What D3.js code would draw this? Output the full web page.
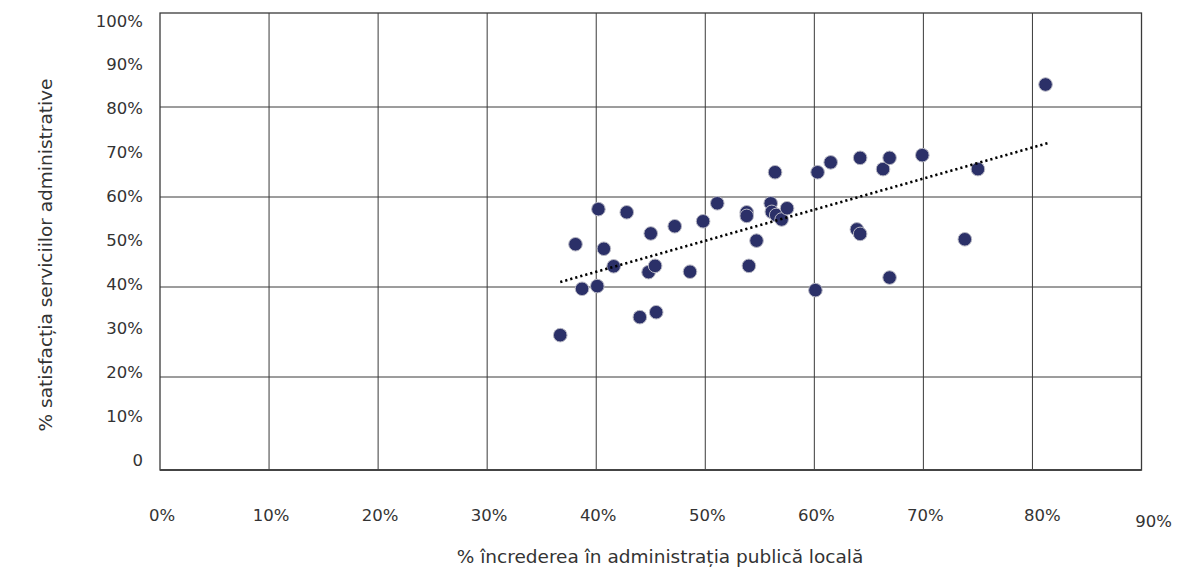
<!DOCTYPE html>
<html>
<head>
<meta charset="utf-8">
<script src="https://cdn.jsdelivr.net/npm/d3@7/dist/d3.min.js"></script>
<style>
  html, body { margin: 0; padding: 0; background: #fff; }
  svg { display: block; }
  text { font-family: "DejaVu Sans", "Noto Sans", sans-serif; fill: #333; }
</style>
</head>
<body>
<svg id="chart" width="1202" height="572"></svg>
<script>
// Data: % trust in local public administration (x) vs % satisfaction with administrative services (y)
const trust = [36.7, 38.1, 38.7, 40.1, 40.2, 40.7, 41.6, 42.8, 44.0, 45.0,
               44.8, 45.4, 45.5, 47.2, 48.6, 49.8, 51.1, 53.8, 53.8, 54.0,
               54.7, 56.0, 56.1, 56.5, 57.0, 57.5, 56.4, 60.1, 60.3, 61.5,
               63.9, 64.2, 64.2, 66.3, 66.9, 66.9, 69.9, 73.8, 75.0, 81.2];
const satisfaction = [29.3, 49.5, 39.6, 40.2, 57.3, 48.5, 44.6, 56.6, 33.3, 51.9,
                      43.3, 44.7, 34.4, 53.5, 43.4, 54.6, 58.6, 56.6, 55.8, 44.7,
                      50.3, 58.6, 56.7, 56.0, 55.0, 57.5, 65.5, 39.3, 65.5, 67.7,
                      52.8, 51.8, 68.7, 66.2, 68.7, 42.1, 69.3, 50.6, 66.2, 85.0];
const trendX = [36.7, 81.6];
const trendY = [41.1, 72.1];
const xTicks = [0, 10, 20, 30, 40, 50, 60, 70, 80, 90];
const xTickLabels = ["0%", "10%", "20%", "30%", "40%", "50%", "60%", "70%", "80%", "90%"];
const yTicks = [0, 10, 20, 30, 40, 50, 60, 70, 80, 90, 100];
const yTickLabels = ["0", "10%", "20%", "30%", "40%", "50%", "60%", "70%", "80%", "90%", "100%"];
const yGrid = [20, 40, 60, 80];
const xTitle = "% încrederea în administrația publică locală";
const yTitle = "% satisfacția serviciilor administrative";

const svg = d3.select("#chart");
const x = d3.scaleLinear().domain([0, 90]).range([160, 1141.5]);
const y = d3.scaleLinear().domain([0, 100]).range([467, 17]);
const yLab = d3.scaleLinear().domain([0, 100]).range([460, 21]);

const frameTop = 13, frameBottom = 470;

// vertical grid
svg.append("g").selectAll("line").data(xTicks.slice(1, -1)).join("line")
  .attr("x1", d => x(d)).attr("x2", d => x(d))
  .attr("y1", frameTop).attr("y2", frameBottom)
  .attr("stroke", "#3a3a3a").attr("stroke-width", 1);

// horizontal grid
svg.append("g").selectAll("line").data(yGrid).join("line")
  .attr("x1", x(0)).attr("x2", x(90))
  .attr("y1", d => y(d)).attr("y2", d => y(d))
  .attr("stroke", "#3a3a3a").attr("stroke-width", 1);

// frame
svg.append("rect")
  .attr("x", x(0)).attr("y", frameTop)
  .attr("width", x(90) - x(0)).attr("height", frameBottom - frameTop)
  .attr("fill", "none").attr("stroke", "#3a3a3a").attr("stroke-width", 1.3);
svg.append("line")
  .attr("x1", x(0)).attr("x2", x(90)).attr("y1", frameBottom).attr("y2", frameBottom)
  .attr("stroke", "#444").attr("stroke-width", 2);

// y tick labels
svg.append("g").selectAll("text").data(yTicks).join("text")
  .attr("x", 143).attr("y", d => yLab(d))
  .attr("text-anchor", "end").attr("dominant-baseline", "central")
  .attr("font-size", 16.5)
  .text((d, i) => yTickLabels[i]);

// x tick labels
const nudge = {80: [8, 0], 90: [10, 6]};
svg.append("g").selectAll("text").data(xTicks).join("text")
  .attr("x", d => x(d) + 2 + (nudge[d] ? nudge[d][0] : 0))
  .attr("y", d => 515 + (nudge[d] ? nudge[d][1] : 0))
  .attr("text-anchor", "middle").attr("dominant-baseline", "central")
  .attr("font-size", 16.5)
  .text((d, i) => xTickLabels[i]);

// axis titles
svg.append("text")
  .attr("x", 660).attr("y", 556)
  .attr("text-anchor", "middle").attr("dominant-baseline", "central")
  .attr("font-size", 18.5).attr("fill", "#444")
  .text(xTitle);
svg.append("text")
  .attr("transform", "translate(45,255) rotate(-90)")
  .attr("text-anchor", "middle").attr("dominant-baseline", "central")
  .attr("font-size", 18.5).attr("fill", "#444")
  .text(yTitle);

// points
const pts = trust.map((t, i) => ({x: t, y: satisfaction[i]}));
svg.append("g").selectAll("circle").data(pts).join("circle")
  .attr("cx", d => x(d.x)).attr("cy", d => y(d.y))
  .attr("r", 6.8)
  .attr("fill", "#2b3068")
  .attr("stroke", "#b8b8c4").attr("stroke-width", 1);

// trend line
svg.append("path")
  .datum(trendX.map((t, i) => [t, trendY[i]]))
  .attr("d", d3.line().x(d => x(d[0])).y(d => y(d[1])))
  .attr("fill", "none").attr("stroke", "#000")
  .attr("stroke-width", 2.6).attr("stroke-dasharray", "2.2 3");
</script>
</body>
</html>
